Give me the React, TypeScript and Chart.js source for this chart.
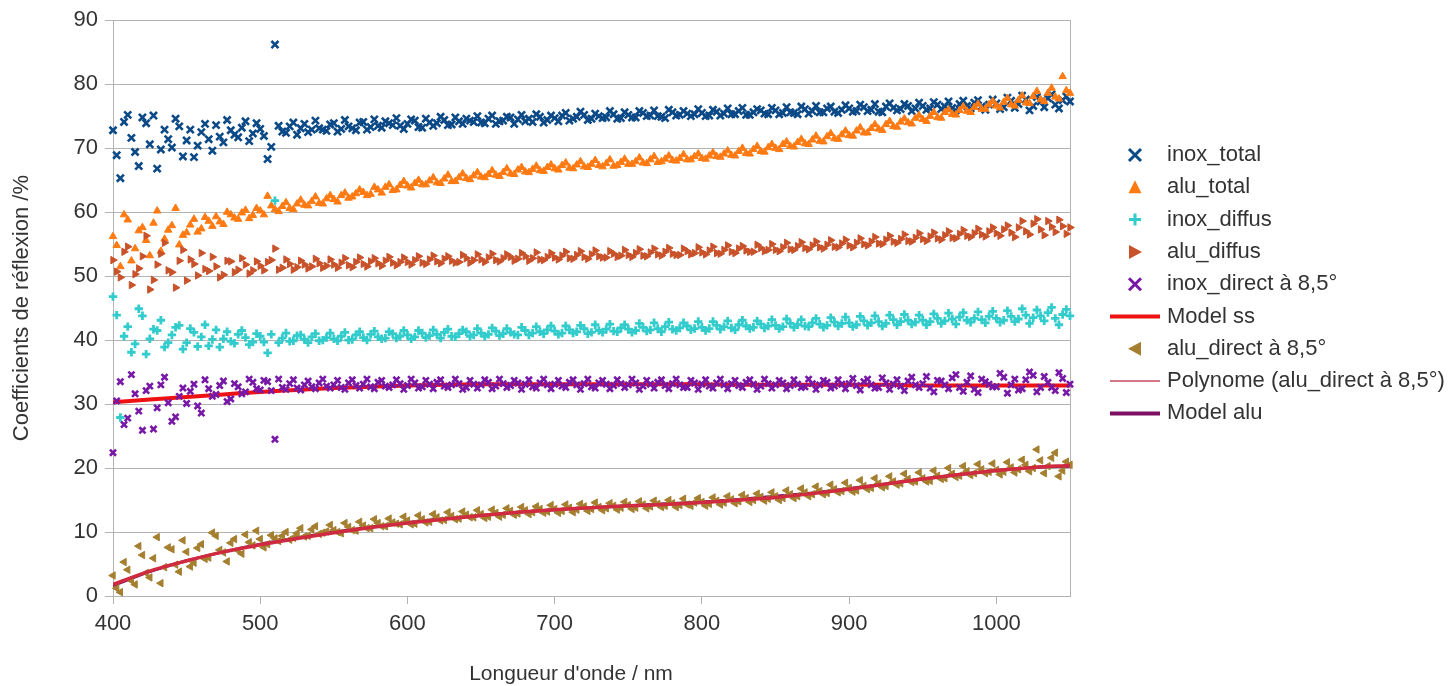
import React, { useEffect, useRef } from 'react';
import { Chart, registerables } from 'chart.js';

Chart.register(...registerables);

// ---------- DATA ----------
// main sampling grid (nm)
const wavelengths = [
  400, 405, 410, 415, 420, 425, 430, 435, 440, 445,
  450, 455, 460, 465, 470, 475, 480, 485, 490, 495,
  500, 505, 510, 515, 520, 525, 530, 535, 540, 545,
  550, 555, 560, 565, 570, 575, 580, 585, 590, 595,
  600, 605, 610, 615, 620, 625, 630, 635, 640, 645,
  650, 655, 660, 665, 670, 675, 680, 685, 690, 695,
  700, 705, 710, 715, 720, 725, 730, 735, 740, 745,
  750, 755, 760, 765, 770, 775, 780, 785, 790, 795,
  800, 805, 810, 815, 820, 825, 830, 835, 840, 845,
  850, 855, 860, 865, 870, 875, 880, 885, 890, 895,
  900, 905, 910, 915, 920, 925, 930, 935, 940, 945,
  950, 955, 960, 965, 970, 975, 980, 985, 990, 995,
  1000, 1005, 1010, 1015, 1020, 1025, 1030, 1035, 1040, 1045,
  1050,
];
// intermediate sampling grid (nm)
const wavelengthsMid = [
  402.5, 407.5, 412.5, 417.5, 422.5, 427.5, 432.5, 437.5, 442.5, 447.5,
  452.5, 457.5, 462.5, 467.5, 472.5, 477.5, 482.5, 487.5, 492.5, 497.5,
  502.5, 507.5, 512.5, 517.5, 522.5, 527.5, 532.5, 537.5, 542.5, 547.5,
  552.5, 557.5, 562.5, 567.5, 572.5, 577.5, 582.5, 587.5, 592.5, 597.5,
  602.5, 607.5, 612.5, 617.5, 622.5, 627.5, 632.5, 637.5, 642.5, 647.5,
  652.5, 657.5, 662.5, 667.5, 672.5, 677.5, 682.5, 687.5, 692.5, 697.5,
  702.5, 707.5, 712.5, 717.5, 722.5, 727.5, 732.5, 737.5, 742.5, 747.5,
  752.5, 757.5, 762.5, 767.5, 772.5, 777.5, 782.5, 787.5, 792.5, 797.5,
  802.5, 807.5, 812.5, 817.5, 822.5, 827.5, 832.5, 837.5, 842.5, 847.5,
  852.5, 857.5, 862.5, 867.5, 872.5, 877.5, 882.5, 887.5, 892.5, 897.5,
  902.5, 907.5, 912.5, 917.5, 922.5, 927.5, 932.5, 937.5, 942.5, 947.5,
  952.5, 957.5, 962.5, 967.5, 972.5, 977.5, 982.5, 987.5, 992.5, 997.5,
  1002.5, 1007.5, 1012.5, 1017.5, 1022.5, 1027.5, 1032.5, 1037.5, 1042.5, 1047.5,
];

const inoxTotal = [
  72.8, 65.3, 75.2, 69.4, 74.8, 70.6, 66.8, 72.9, 70.1, 73.4,
  71.2, 68.6, 72.5, 71.4, 73.6, 70.9, 72.8, 71.7, 74.2, 72.3,
  73.0, 68.3, 86.2, 72.6, 73.4, 72.1, 73.8, 72.9, 73.1, 72.7,
  73.9, 73.0, 73.4, 72.8, 74.1, 73.3, 73.5, 74.2, 73.6, 73.5,
  73.8, 74.3, 73.2, 74.0, 73.9, 74.4, 73.7, 74.2, 74.6, 74.1,
  74.0, 74.6, 73.8, 74.3, 74.8, 74.5, 74.2, 74.1, 74.9, 74.4,
  74.7, 75.1, 74.3, 74.9, 75.2, 74.6, 75.0, 74.8, 75.3, 74.7,
  75.2, 74.8, 75.5, 75.1, 75.0, 74.7, 75.6, 75.2, 75.4, 75.3,
  75.5, 75.1, 75.7, 75.4, 75.3, 75.8, 75.2, 75.6, 75.9, 75.3,
  75.9, 75.5, 75.6, 75.3, 76.1, 75.8, 75.6, 76.2, 75.7, 76.0,
  76.2, 75.8, 76.4, 76.0, 75.7, 76.5, 76.3, 76.1, 76.6, 76.2,
  76.6, 76.2, 76.8, 76.5, 76.3, 76.9, 76.6, 77.1, 76.5, 76.8,
  77.0, 76.4, 77.4, 76.9, 77.6, 76.6, 77.3, 77.8, 76.8, 77.5,
  77.3,
];
const inoxTotalMid = [
  68.9, 74.1, 71.6, 67.2, 73.9, 75.1, 69.8, 71.4, 74.6, 68.7,
  72.9, 70.4, 73.8, 69.6, 71.8, 74.4, 72.1, 73.2, 71.1, 73.9,
  71.9, 70.2, 73.5, 72.4, 74.0, 73.1, 72.5, 74.3, 72.9, 73.7,
  72.6, 74.4, 73.1, 74.0, 72.9, 74.5, 73.2, 73.9, 74.7, 73.0,
  74.5, 73.3, 74.6, 73.5, 74.9, 73.6, 74.8, 73.8, 74.3, 75.0,
  73.9, 75.1, 74.2, 74.9, 73.8, 75.2, 74.6, 75.3, 74.0, 75.1,
  74.2, 75.5, 74.6, 75.7, 74.4, 75.4, 74.7, 75.8, 74.6, 75.6,
  74.8, 75.8, 75.0, 75.9, 74.9, 76.0, 75.1, 75.8, 75.0, 76.1,
  75.0, 76.0, 75.1, 76.2, 75.3, 76.3, 75.2, 76.1, 75.4, 76.3,
  75.3, 76.4, 75.5, 76.5, 75.4, 76.6, 75.6, 76.5, 75.5, 76.7,
  75.7, 76.8, 75.8, 76.9, 75.6, 77.0, 75.9, 76.9, 75.8, 77.1,
  76.0, 77.2, 76.1, 77.3, 75.9, 77.4, 76.2, 77.5, 76.0, 77.6,
  76.1, 77.9, 76.3, 78.2, 75.9, 78.0, 76.4, 78.4, 76.2, 78.1,
];

const aluTotal = [
  56.2, 51.5, 58.8, 54.3, 57.6, 53.2, 60.2, 55.8, 57.9, 54.9,
  56.8, 58.9, 57.4, 58.6, 59.3, 58.1, 59.6, 58.9, 60.3, 59.5,
  60.2, 62.5, 60.4, 60.9, 60.6, 61.3, 61.1, 61.7, 61.4, 62.1,
  62.0, 62.6, 62.2, 62.9, 63.1, 62.8, 63.5, 63.9, 63.4, 64.2,
  64.1, 64.5, 64.3, 64.9, 64.6, 65.2, 64.8, 65.4, 65.3, 65.7,
  65.5, 65.9, 65.8, 66.2, 66.0, 66.6, 66.3, 66.7, 66.5, 67.0,
  66.8, 67.3, 66.9, 67.4, 67.1, 67.5, 67.3, 67.6, 67.2, 67.8,
  67.5, 67.9, 67.7, 68.2, 67.8, 68.3, 68.1, 68.4, 68.2, 68.7,
  68.4, 68.8, 68.7, 69.1, 68.9, 69.5, 69.2, 69.8, 69.5, 70.1,
  70.0, 70.6, 70.3, 70.9, 70.7, 71.3, 71.1, 71.8, 71.5, 72.1,
  72.0, 72.7, 72.4, 73.1, 73.0, 73.7, 73.4, 74.1, 74.0, 74.7,
  74.5, 75.0, 74.8, 75.6, 75.3, 75.9, 75.8, 76.4, 76.1, 76.8,
  76.6, 77.2, 76.8, 77.5, 77.1, 78.1, 77.6, 78.6, 78.0, 81.2,
  78.6,
];
const aluTotalMid = [
  54.8, 59.6, 52.4, 57.1, 55.6, 58.3, 53.9, 57.2, 60.6, 56.4,
  58.0, 56.9, 59.2, 57.8, 58.5, 60.0, 59.1, 59.9, 59.0, 60.6,
  59.6, 61.0, 60.1, 61.5, 60.4, 61.9, 61.0, 62.4, 61.3, 62.6,
  61.6, 63.0, 62.4, 63.5, 62.6, 63.9, 63.0, 64.3, 63.5, 64.8,
  63.8, 65.0, 64.3, 65.4, 64.5, 65.8, 64.8, 66.0, 65.1, 66.2,
  65.4, 66.5, 65.6, 66.8, 65.9, 67.0, 66.2, 67.2, 66.4, 67.4,
  66.6, 67.7, 66.8, 67.9, 67.0, 68.1, 67.1, 68.2, 67.3, 68.3,
  67.5, 68.5, 67.6, 68.7, 67.9, 68.8, 68.0, 69.0, 68.2, 69.1,
  68.3, 69.3, 68.6, 69.6, 68.8, 70.0, 69.1, 70.3, 69.4, 70.6,
  69.8, 71.0, 70.2, 71.4, 70.6, 71.9, 71.0, 72.3, 71.4, 72.7,
  71.9, 73.2, 72.4, 73.7, 72.8, 74.2, 73.3, 74.6, 73.8, 75.1,
  74.2, 75.6, 74.7, 76.0, 75.2, 76.5, 75.6, 76.9, 76.1, 77.3,
  76.3, 77.8, 76.6, 78.2, 77.0, 78.9, 77.3, 79.4, 77.7, 79.0,
];

const inoxDiffus = [
  46.8, 27.9, 42.1, 39.4, 43.8, 40.2, 41.5, 38.9, 40.8, 42.3,
  39.6, 41.2, 40.5, 39.1, 41.6, 40.2, 39.8, 40.9, 40.4, 39.7,
  40.6, 38.0, 61.8, 40.3, 39.8, 40.7, 40.1, 40.5, 39.9, 40.4,
  40.2, 40.6, 40.0, 40.8, 40.4, 40.9, 40.5, 40.3, 41.0, 40.6,
  40.8, 40.5, 41.1, 40.7, 40.9, 41.2, 40.6, 41.0, 41.3, 40.8,
  41.1, 40.9, 41.4, 41.0, 41.2, 40.8, 41.5, 41.1, 41.3, 41.6,
  41.4, 41.1, 41.6, 41.3, 41.8, 41.2, 41.5, 41.7, 41.4, 41.9,
  41.7, 41.5, 42.0, 41.6, 41.8, 42.1, 41.7, 41.9, 42.2, 41.8,
  42.0, 41.8, 42.3, 42.1, 41.9, 42.4, 42.2, 42.0, 42.5, 42.2,
  42.3, 42.1, 42.6, 42.4, 42.2, 42.7, 42.5, 42.3, 42.8, 42.6,
  42.7, 42.4, 43.0, 42.7, 42.9, 42.6, 43.2, 42.9, 43.1, 42.8,
  43.1, 42.9, 43.4, 43.0, 43.3, 43.6, 43.1, 43.4, 43.2, 43.7,
  43.4, 43.1, 43.7, 43.3, 43.9, 43.5, 43.8, 44.3, 43.4, 44.0,
  43.8,
];
const inoxDiffusMid = [
  43.9, 40.6, 38.1, 44.9, 37.8, 41.7, 43.1, 39.6, 42.0, 38.6,
  41.8, 39.0, 42.4, 40.1, 38.9, 41.3, 39.5, 41.5, 39.3, 41.0,
  39.7, 40.9, 39.6, 41.1, 39.9, 40.8, 39.6, 41.0, 40.0, 41.1,
  39.9, 41.2, 40.1, 41.3, 40.0, 41.4, 40.2, 41.3, 40.3, 41.5,
  40.2, 41.5, 40.4, 41.6, 40.3, 41.7, 40.5, 41.6, 40.6, 41.8,
  40.6, 41.9, 40.7, 41.8, 40.9, 42.0, 40.8, 42.1, 41.0, 42.2,
  40.9, 42.2, 41.1, 42.3, 41.0, 42.4, 41.2, 42.5, 41.3, 42.4,
  41.2, 42.6, 41.4, 42.7, 41.3, 42.8, 41.5, 42.7, 41.6, 42.9,
  41.5, 42.9, 41.7, 43.0, 41.6, 43.1, 41.8, 43.0, 41.9, 43.2,
  41.8, 43.3, 42.0, 43.2, 42.1, 43.4, 42.0, 43.5, 42.2, 43.6,
  42.1, 43.7, 42.3, 43.8, 42.2, 43.9, 42.4, 44.0, 42.5, 43.9,
  42.4, 44.1, 42.6, 44.2, 42.5, 44.3, 42.8, 44.4, 42.7, 44.5,
  42.8, 44.6, 42.9, 44.9, 42.6, 44.7, 43.0, 45.1, 42.4, 44.8,
];

const aluDiffus = [
  52.5, 49.8, 54.6, 50.3, 53.1, 47.9, 51.8, 55.2, 50.6, 52.4,
  49.3, 51.9, 53.6, 50.8, 51.5, 50.2, 52.3, 51.0, 51.8, 50.9,
  51.6, 52.2, 54.3, 51.3, 51.9, 51.4, 51.8, 51.5, 52.0, 51.6,
  51.8, 52.1, 51.7, 52.2, 51.9, 52.3, 52.0, 52.4, 52.1, 52.2,
  52.2, 52.5, 52.1, 52.6, 52.3, 52.7, 52.4, 52.2, 52.8, 52.5,
  52.6, 52.9, 52.5, 52.8, 53.0, 52.7, 53.1, 52.8, 52.6, 53.0,
  52.9, 53.2, 52.8, 53.3, 53.0, 53.4, 53.1, 52.9, 53.5, 53.2,
  53.3, 53.6, 53.2, 53.7, 53.4, 53.8, 53.5, 53.3, 53.9, 53.6,
  53.7, 54.0, 53.6, 54.1, 53.8, 54.3, 54.0, 53.8, 54.4, 54.1,
  54.1, 54.5, 54.2, 54.7, 54.4, 54.8, 54.5, 54.9, 54.6, 55.1,
  54.8, 55.2, 55.0, 55.4, 55.1, 55.7, 55.4, 55.8, 55.5, 56.0,
  55.8, 56.2, 55.9, 56.4, 56.0, 56.6, 56.3, 56.7, 56.5, 57.0,
  56.7, 57.3, 56.8, 57.6, 57.0, 58.2, 57.3, 58.6, 56.9, 57.8,
  57.6,
];
const aluDiffusMid = [
  50.7, 53.8, 48.6, 51.2, 56.3, 49.4, 53.5, 50.9, 48.2, 54.1,
  52.6, 50.1, 51.1, 53.0, 49.8, 52.4, 50.6, 52.8, 50.4, 52.3,
  50.9, 52.5, 51.0, 52.6, 51.0, 52.4, 51.2, 52.7, 51.3, 52.6,
  51.3, 52.8, 51.4, 52.9, 51.5, 52.8, 51.6, 53.0, 51.7, 52.9,
  51.8, 53.1, 51.9, 53.2, 52.0, 53.1, 52.1, 53.3, 52.1, 53.4,
  52.2, 53.5, 52.3, 53.4, 52.4, 53.6, 52.4, 53.7, 52.5, 53.6,
  52.6, 53.8, 52.7, 53.9, 52.7, 54.0, 52.9, 53.9, 53.0, 54.1,
  53.0, 54.2, 53.1, 54.3, 53.2, 54.4, 53.3, 54.3, 53.4, 54.5,
  53.4, 54.6, 53.5, 54.8, 53.6, 54.7, 53.8, 54.9, 53.9, 55.0,
  53.9, 55.2, 54.1, 55.3, 54.2, 55.4, 54.3, 55.6, 54.5, 55.7,
  54.5, 55.9, 54.8, 56.1, 55.0, 56.3, 55.2, 56.5, 55.4, 56.7,
  55.5, 56.8, 55.7, 57.0, 55.9, 57.2, 56.1, 57.4, 56.2, 57.6,
  56.3, 57.9, 56.1, 58.6, 56.5, 58.9, 56.4, 57.7, 58.8, 56.6,
];

const inoxDirect = [
  22.4, 33.5, 27.8, 31.6, 25.9, 32.8, 29.4, 34.2, 27.3, 31.2,
  30.1, 33.1, 28.6, 32.4, 31.5, 33.6, 30.8, 32.7, 31.9, 33.4,
  32.2, 33.5, 24.5, 32.6, 33.2, 32.5, 33.0, 32.7, 33.3, 32.8,
  33.0, 32.6, 33.3, 32.9, 33.1, 32.7, 33.4, 32.8, 33.0, 33.2,
  32.9, 33.3, 32.7, 33.1, 33.4, 32.8, 33.0, 33.2, 32.6, 33.1,
  33.0, 33.4, 32.8, 33.2, 32.9, 33.3, 33.1, 32.7, 33.3, 33.0,
  33.1, 32.8, 33.4, 33.0, 33.2, 32.7, 33.3, 33.1, 32.9, 33.2,
  33.0, 33.3, 32.8, 33.1, 33.4, 32.9, 33.2, 33.0, 32.6, 33.3,
  33.1, 32.8, 33.3, 33.0, 33.2, 32.9, 33.4, 33.1, 32.8, 33.2,
  33.0, 33.3, 32.9, 33.1, 32.7, 33.2, 33.0, 33.4, 32.8, 33.1,
  33.2, 32.9, 33.5, 33.0, 32.6, 33.3, 33.1, 32.8, 33.6, 33.0,
  33.2, 32.5, 33.7, 33.0, 34.1, 32.6, 33.4, 32.3, 33.9, 33.1,
  32.7, 34.2, 33.0, 32.2, 33.8, 34.5, 32.6, 33.4, 32.1, 34.0,
  33.1,
];
const inoxDirectMid = [
  30.5, 26.8, 34.6, 28.9, 32.1, 26.1, 33.0, 30.2, 28.0, 32.5,
  32.0, 29.7, 33.8, 31.2, 32.9, 30.4, 33.2, 31.6, 33.9, 32.4,
  33.7, 32.1, 33.9, 32.3, 33.8, 32.2, 33.6, 32.4, 33.9, 32.5,
  33.7, 32.3, 33.8, 32.5, 33.9, 32.4, 33.7, 32.6, 33.8, 32.3,
  33.9, 32.5, 33.7, 32.4, 33.8, 32.6, 33.9, 32.3, 33.7, 32.5,
  33.8, 32.4, 33.9, 32.6, 33.7, 32.3, 33.8, 32.5, 33.9, 32.4,
  33.7, 32.6, 33.8, 32.3, 33.9, 32.5, 33.7, 32.4, 33.8, 32.6,
  33.9, 32.3, 33.7, 32.5, 33.8, 32.4, 33.9, 32.6, 33.7, 32.3,
  33.8, 32.5, 33.9, 32.4, 33.7, 32.6, 33.8, 32.3, 33.9, 32.5,
  33.7, 32.4, 33.8, 32.6, 33.9, 32.3, 33.7, 32.5, 33.8, 32.4,
  34.0, 32.2, 33.9, 32.5, 34.1, 32.3, 33.8, 32.1, 34.2, 32.6,
  34.3, 31.9, 33.6, 32.4, 34.6, 32.0, 34.4, 31.8, 33.5, 32.7,
  34.8, 31.7, 33.9, 32.4, 35.0, 31.9, 34.3, 32.6, 34.9, 31.8,
];

const aluDirect = [
  3.2, 0.6, 4.1, 1.8, 6.4, 2.9, 9.2, 4.5, 7.3, 3.8,
  6.9, 5.2, 8.1, 6.0, 9.4, 6.8, 8.3, 7.1, 9.6, 7.9,
  8.9, 8.1, 9.0, 9.4, 8.8, 9.8, 9.3, 10.4, 9.7, 10.1,
  10.3, 9.8, 10.8, 10.2, 11.0, 10.6, 11.4, 10.9, 11.5, 11.2,
  11.8, 11.3, 12.0, 11.6, 12.3, 11.9, 12.5, 12.1, 12.7, 12.3,
  12.8, 12.4, 13.0, 12.7, 13.3, 12.9, 13.4, 13.1, 13.6, 13.2,
  13.6, 13.3, 13.8, 13.5, 14.0, 13.6, 13.9, 13.7, 14.1, 13.8,
  14.2, 13.8, 14.3, 14.0, 14.4, 14.1, 14.5, 14.2, 14.3, 14.6,
  14.7, 14.4, 14.9, 14.6, 15.1, 14.8, 15.3, 15.0, 15.5, 15.2,
  15.6, 15.3, 15.9, 15.6, 16.2, 15.9, 16.4, 16.1, 16.7, 16.4,
  16.9, 16.5, 17.2, 16.9, 17.6, 17.2, 17.9, 17.6, 18.3, 17.9,
  18.4, 18.0, 18.8, 18.4, 19.1, 18.8, 19.5, 19.2, 19.8, 19.4,
  19.7, 19.4, 20.1, 19.8, 20.5, 20.0, 21.2, 20.3, 22.4, 19.6,
  20.5,
];
const aluDirectMid = [
  1.2, 5.3, 2.4, 7.8, 3.6, 5.9, 2.0, 7.6, 4.9, 8.7,
  4.6, 7.5, 5.8, 9.9, 7.2, 5.4, 8.9, 6.6, 8.4, 10.2,
  7.6, 9.5, 8.6, 10.0, 9.1, 10.6, 9.4, 10.9, 9.9, 11.1,
  10.0, 11.4, 10.3, 11.6, 10.6, 12.0, 10.9, 12.1, 11.3, 12.4,
  11.2, 12.6, 11.5, 12.8, 11.8, 13.1, 12.0, 13.2, 12.3, 13.4,
  12.2, 13.5, 12.4, 13.7, 12.7, 13.9, 12.8, 14.0, 13.0, 14.2,
  13.0, 14.3, 13.1, 14.4, 13.3, 14.6, 13.4, 14.5, 13.5, 14.7,
  13.6, 14.8, 13.7, 14.9, 13.9, 15.0, 13.9, 15.2, 14.1, 15.3,
  14.1, 15.4, 14.3, 15.6, 14.5, 15.8, 14.7, 16.0, 14.9, 16.2,
  15.0, 16.5, 15.3, 16.8, 15.6, 17.1, 15.9, 17.4, 16.2, 17.7,
  16.3, 18.1, 16.7, 18.4, 17.0, 18.7, 17.4, 19.1, 17.8, 19.3,
  17.9, 19.6, 18.3, 20.0, 18.6, 20.3, 18.9, 20.6, 19.2, 20.7,
  19.0, 20.9, 19.3, 21.3, 19.5, 22.9, 19.2, 21.6, 18.7, 21.0,
];

const modelWavelengths = [
  400, 425, 450, 475, 500, 525, 550, 575, 600, 625, 650, 675, 700, 725,
  750, 775, 800, 825, 850, 875, 900, 925, 950, 975, 1000, 1025, 1050,
];
const modelSs = [
  30.3, 30.7, 31.1, 31.5, 31.9, 32.2, 32.5, 32.7, 32.9, 33.0, 33.1, 33.1, 33.1, 33.1,
  33.1, 33.1, 33.1, 33.0, 33.0, 33.0, 33.0, 33.0, 32.9, 32.9, 32.9, 32.9, 32.9,
];
const polynome = [
  1.8, 3.9, 5.5, 6.9, 8.0, 9.0, 9.9, 10.7, 11.4, 12.0, 12.6, 13.1, 13.5, 13.8,
  14.1, 14.3, 14.6, 15.0, 15.4, 16.0, 16.7, 17.5, 18.3, 19.0, 19.6, 20.1, 20.4,
];
const modelAlu = [
  1.6, 3.8, 5.5, 6.9, 8.1, 9.1, 10.0, 10.8, 11.5, 12.1, 12.6, 13.1, 13.5, 13.8,
  14.1, 14.4, 14.7, 15.1, 15.6, 16.1, 16.8, 17.5, 18.3, 19.0, 19.6, 20.1, 20.3,
];

const xTicks = [400, 500, 600, 700, 800, 900, 1000];
const yTicks = [0, 10, 20, 30, 40, 50, 60, 70, 80, 90];

const seriesLabels = [
  'inox_total',
  'alu_total',
  'inox_diffus',
  'alu_diffus',
  'inox_direct à 8,5°',
  'Model ss',
  'alu_direct à 8,5°',
  'Polynome (alu_direct à 8,5°)',
  'Model alu',
];
const xTitle = "Longueur d'onde / nm";
const yTitle = 'Coefficients de réflexion /%';

// ---------- STYLE ----------
const FONT = '"Liberation Sans", Arial, sans-serif';
const GRID = '#b3b3b3';
const TEXT = '#333333';
const C_INOX_TOTAL = '#0c4a87';
const C_ALU_TOTAL = '#ff7a12';
const C_INOX_DIFFUS = '#33cccc';
const C_ALU_DIFFUS = '#c8522a';
const C_INOX_DIRECT = '#7719a6';
const C_MODEL_SS = '#ee1111';
const C_ALU_DIRECT = '#a57f30';
const C_POLY = '#cf2a40';
const C_MODEL_ALU = '#7e1064';

type LegendKind = 'crossRot' | 'triangle' | 'cross' | 'triRight' | 'triLeft' | 'line';
const legendStyles: { kind: LegendKind; color: string; width?: number }[] = [
  { kind: 'crossRot', color: C_INOX_TOTAL },
  { kind: 'triangle', color: C_ALU_TOTAL },
  { kind: 'cross', color: C_INOX_DIFFUS },
  { kind: 'triRight', color: C_ALU_DIFFUS },
  { kind: 'crossRot', color: C_INOX_DIRECT },
  { kind: 'line', color: C_MODEL_SS, width: 4 },
  { kind: 'triLeft', color: C_ALU_DIRECT },
  { kind: 'line', color: '#c44a62', width: 1.5 },
  { kind: 'line', color: C_MODEL_ALU, width: 4 },
];

const legendPlugin = {
  id: 'customLegend',
  beforeDatasetsDraw(chart: any) {
    const { ctx, chartArea } = chart;
    ctx.save();
    ctx.strokeStyle = GRID;
    ctx.lineWidth = 1;
    ctx.beginPath();
    ctx.moveTo(Math.round(chartArea.right) + 0.5, chartArea.top);
    ctx.lineTo(Math.round(chartArea.right) + 0.5, chartArea.bottom);
    ctx.stroke();
    ctx.restore();
  },
  afterDraw(chart: any) {
    const ctx: CanvasRenderingContext2D = chart.ctx;
    ctx.save();
    // x axis title
    ctx.fillStyle = TEXT;
    ctx.font = `21px ${FONT}`;
    ctx.textAlign = 'center';
    ctx.textBaseline = 'middle';
    ctx.fillText(xTitle, 571, 674);

    const mx = 1135;
    legendStyles.forEach((st, i) => {
      const y = 155 + i * 32.3;
      ctx.fillStyle = st.color;
      ctx.strokeStyle = st.color;
      ctx.lineCap = 'butt';
      ctx.beginPath();
      switch (st.kind) {
        case 'crossRot':
          ctx.lineWidth = 3;
          ctx.moveTo(mx - 6, y - 6);
          ctx.lineTo(mx + 6, y + 6);
          ctx.moveTo(mx - 6, y + 6);
          ctx.lineTo(mx + 6, y - 6);
          ctx.stroke();
          break;
        case 'cross':
          ctx.lineWidth = 3;
          ctx.moveTo(mx - 6, y);
          ctx.lineTo(mx + 6, y);
          ctx.moveTo(mx, y - 6);
          ctx.lineTo(mx, y + 6);
          ctx.stroke();
          break;
        case 'triangle':
          ctx.moveTo(mx, y - 7);
          ctx.lineTo(mx + 6.5, y + 6);
          ctx.lineTo(mx - 6.5, y + 6);
          ctx.closePath();
          ctx.fill();
          break;
        case 'triRight':
          ctx.moveTo(mx - 6, y - 7);
          ctx.lineTo(mx + 7, y);
          ctx.lineTo(mx - 6, y + 7);
          ctx.closePath();
          ctx.fill();
          break;
        case 'triLeft':
          ctx.moveTo(mx + 6, y - 7);
          ctx.lineTo(mx - 7, y);
          ctx.lineTo(mx + 6, y + 7);
          ctx.closePath();
          ctx.fill();
          break;
        case 'line':
          ctx.lineWidth = st.width || 2;
          ctx.moveTo(1110, y);
          ctx.lineTo(1160, y);
          ctx.stroke();
          break;
      }
      ctx.fillStyle = TEXT;
      ctx.font = `22px ${FONT}`;
      ctx.textBaseline = 'middle';
      ctx.textAlign = 'left';
      ctx.fillText(seriesLabels[i], 1167, y);
    });
    ctx.restore();
  },
};

const toPoints = (xs: number[], ys: number[], xs2?: number[], ys2?: number[]) => {
  const a = xs.map((x, i) => ({ x, y: ys[i] }));
  if (xs2 && ys2) xs2.forEach((x, i) => a.push({ x, y: ys2[i] }));
  return a;
};

export default function App() {
  const ref = useRef<HTMLCanvasElement | null>(null);

  useEffect(() => {
    if (!ref.current) return;
    const scatterBase = { showLine: false, clip: false as any };
    const chart = new Chart(ref.current, {
      type: 'scatter',
      data: {
        datasets: [
          {
            ...scatterBase,
            label: seriesLabels[0],
            data: toPoints(wavelengths, inoxTotal, wavelengthsMid, inoxTotalMid),
            pointStyle: 'crossRot',
            pointRadius: 5,
            borderWidth: 2.6,
            borderColor: C_INOX_TOTAL,
            backgroundColor: C_INOX_TOTAL,
            order: 10,
          },
          {
            ...scatterBase,
            label: seriesLabels[1],
            data: toPoints(wavelengths, aluTotal, wavelengthsMid, aluTotalMid),
            pointStyle: 'triangle',
            pointRadius: 4.3,
            borderWidth: 1,
            borderColor: C_ALU_TOTAL,
            backgroundColor: C_ALU_TOTAL,
            order: 9,
          },
          {
            ...scatterBase,
            label: seriesLabels[2],
            data: toPoints(wavelengths, inoxDiffus, wavelengthsMid, inoxDiffusMid),
            pointStyle: 'cross',
            pointRadius: 4.2,
            borderWidth: 2.8,
            borderColor: C_INOX_DIFFUS,
            backgroundColor: C_INOX_DIFFUS,
            order: 8,
          },
          {
            ...scatterBase,
            label: seriesLabels[3],
            data: toPoints(wavelengths, aluDiffus, wavelengthsMid, aluDiffusMid),
            pointStyle: 'triangle',
            rotation: 90,
            pointRadius: 4.3,
            borderWidth: 1,
            borderColor: C_ALU_DIFFUS,
            backgroundColor: C_ALU_DIFFUS,
            order: 7,
          },
          {
            ...scatterBase,
            label: seriesLabels[4],
            data: toPoints(wavelengths, inoxDirect, wavelengthsMid, inoxDirectMid),
            pointStyle: 'crossRot',
            pointRadius: 4.3,
            borderWidth: 2.6,
            borderColor: C_INOX_DIRECT,
            backgroundColor: C_INOX_DIRECT,
            order: 5,
          },
          {
            label: seriesLabels[5],
            data: toPoints(modelWavelengths, modelSs),
            showLine: true,
            pointRadius: 0,
            borderWidth: 4,
            borderColor: C_MODEL_SS,
            backgroundColor: C_MODEL_SS,
            cubicInterpolationMode: 'monotone',
            order: 6,
          },
          {
            ...scatterBase,
            label: seriesLabels[6],
            data: toPoints(wavelengths, aluDirect, wavelengthsMid, aluDirectMid),
            pointStyle: 'triangle',
            rotation: -90,
            pointRadius: 4.3,
            borderWidth: 1,
            borderColor: C_ALU_DIRECT,
            backgroundColor: C_ALU_DIRECT,
            order: 3,
          },
          {
            label: seriesLabels[7],
            data: toPoints(modelWavelengths, polynome),
            showLine: true,
            pointRadius: 0,
            borderWidth: 3.5,
            borderColor: C_POLY,
            backgroundColor: C_POLY,
            cubicInterpolationMode: 'monotone',
            order: 1,
          },
          {
            label: seriesLabels[8],
            data: toPoints(modelWavelengths, modelAlu),
            showLine: true,
            pointRadius: 0,
            borderWidth: 3,
            borderColor: C_MODEL_ALU,
            backgroundColor: C_MODEL_ALU,
            cubicInterpolationMode: 'monotone',
            order: 4,
          },
        ] as any,
      },
      options: {
        responsive: false,
        animation: false,
        devicePixelRatio: 1,
        events: [],
        layout: { padding: { top: 19, right: 386, left: 0, bottom: 0 } },
        plugins: {
          legend: { display: false },
          tooltip: { enabled: false },
        },
        scales: {
          x: {
            type: 'linear',
            min: 400,
            max: 1050,
            afterBuildTicks: (scale: any) => {
              scale.ticks = xTicks.map((v) => ({ value: v }));
            },
            afterFit: (scale: any) => {
              scale.height = 90;
            },
            ticks: {
              padding: 7,
              color: TEXT,
              font: { family: FONT, size: 22 },
              callback: (v: any) => String(v),
              maxRotation: 0,
              autoSkip: false,
            },
            grid: {
              drawOnChartArea: false,
              drawTicks: true,
              tickLength: 8,
              color: GRID,
            },
            border: { display: true, color: GRID, width: 1 },
            title: { display: false },
          },
          y: {
            type: 'linear',
            min: 0,
            max: 90,
            afterBuildTicks: (scale: any) => {
              scale.ticks = yTicks.map((v) => ({ value: v }));
            },
            afterFit: (scale: any) => {
              scale.width = 113;
            },
            ticks: {
              padding: 7,
              color: TEXT,
              font: { family: FONT, size: 22 },
              callback: (v: any) => String(v),
              autoSkip: false,
            },
            grid: {
              drawTicks: true,
              tickLength: 8,
              color: GRID,
            },
            border: { display: true, color: GRID, width: 1 },
            title: {
              display: true,
              text: yTitle,
              color: TEXT,
              font: { family: FONT, size: 22 },
              padding: { top: 9, bottom: 0 },
            },
          },
        },
      } as any,
      plugins: [legendPlugin],
    });
    return () => chart.destroy();
  }, []);

  return (
    <div
      style={{
        position: 'fixed',
        left: 0,
        top: 0,
        width: 1456,
        height: 686,
        background: '#ffffff',
      }}
    >
      <canvas
        ref={ref}
        width={1456}
        height={686}
        style={{ display: 'block', width: 1456, height: 686 }}
      />
    </div>
  );
}
